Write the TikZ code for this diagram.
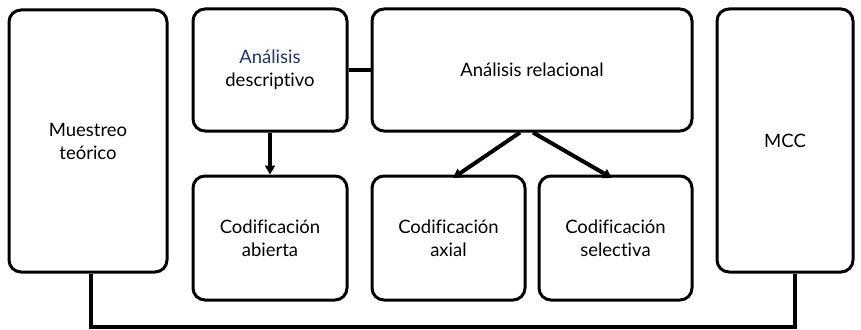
\documentclass[tikz,border=0pt]{standalone}
\usepackage{fontspec}
\setmainfont{Lato}[Ligatures={NoCommon,NoRequired,NoContextual}]
\usetikzlibrary{arrows.meta}
\definecolor{titleblue}{HTML}{1F3864}
\begin{document}
\begin{tikzpicture}[x=1pt,y=-1pt,
  box/.style={draw=black, line width=3pt, rounded corners=12pt, fill=white, align=center, font=\fontsize{18.5}{23}\selectfont, inner sep=0pt},
  conn/.style={draw=black, line width=4pt},
  arr/.style={conn, -{Triangle[length=9pt,width=10pt]}}]
\useasboundingbox (0,0) rectangle (861,329);
\node[box, minimum width=158pt, minimum height=262pt] (mt) at (88,141) {Muestreo\\teórico};
\node[box, minimum width=154pt, minimum height=122pt] (desc) at (270,70) {\textcolor{titleblue}{Análisis}\\descriptivo};
\node[box, minimum width=320pt, minimum height=122pt] (rel) at (532,70) {Análisis relacional};
\node[box, minimum width=154pt, minimum height=124pt] (ab) at (270,238) {Codificación\\abierta};
\node[box, minimum width=153pt, minimum height=124pt] (ax) at (448.5,238) {Codificación\\axial};
\node[box, minimum width=153pt, minimum height=124pt] (sel) at (615.5,238) {Codificación\\selectiva};
\node[box, minimum width=136pt, minimum height=263pt] (mcc) at (785,140.5) {MCC};
\draw[conn] (desc.east) -- (rel.west);
\draw[arr] (desc.south) -- (ab.north);
\coordinate (r1) at ([xshift=-12pt]rel.south);
\coordinate (r2) at ([xshift=1pt]rel.south);
\coordinate (t1) at (453,178);
\coordinate (t2) at (612,178);
\draw[arr] (r1) -- (t1);
\draw[arr] (r2) -- (t2);
\coordinate (b1) at ([xshift=3pt]mt.south);
\coordinate (b2) at ([xshift=10pt]mcc.south);
\coordinate (bl) at ([yshift=-53pt]b1);
\draw[conn] (b1) -- (bl) -| (b2);
\end{tikzpicture}
\end{document}
